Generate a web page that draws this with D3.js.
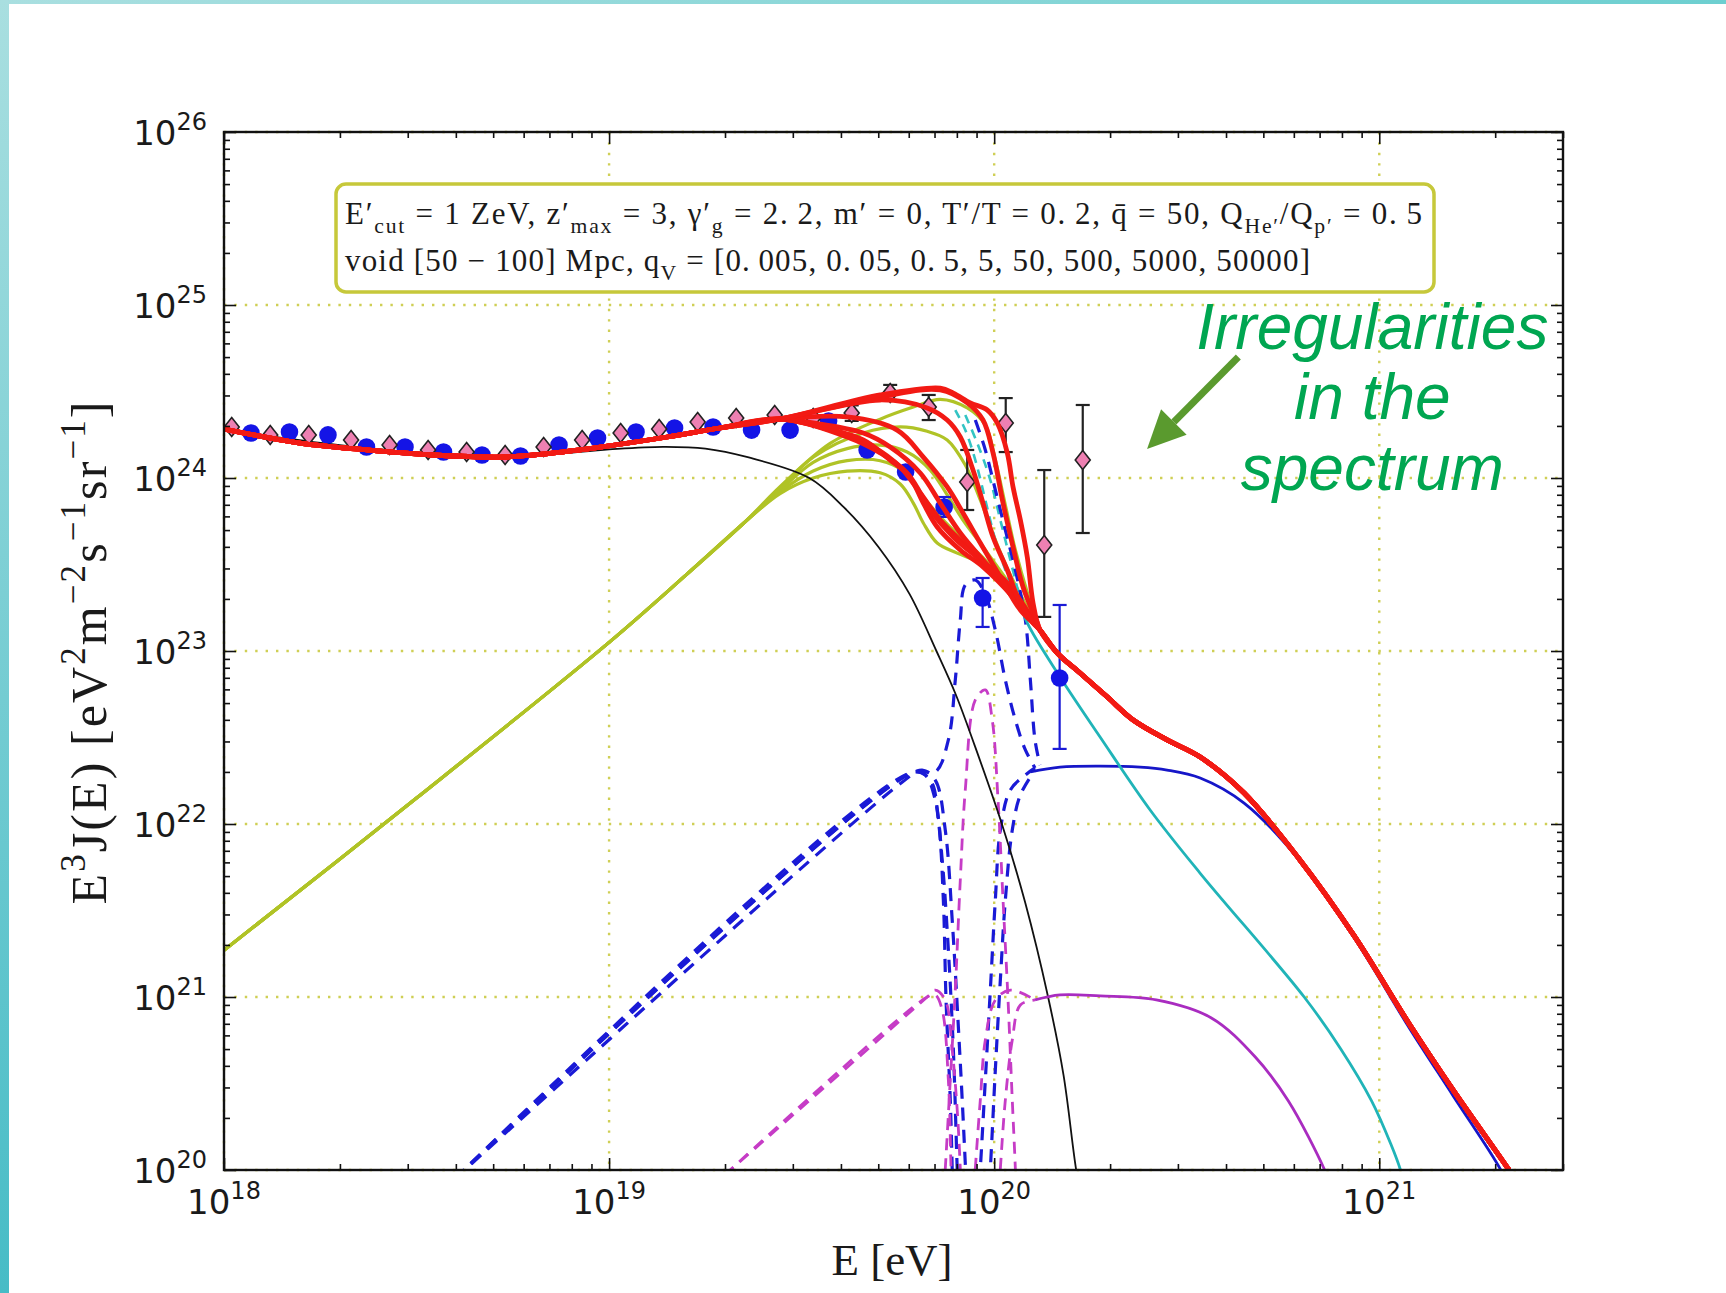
<!DOCTYPE html>
<html>
<head>
<meta charset="utf-8">
<script src="https://cdn.jsdelivr.net/npm/d3@7"></script>
<style>
  html, body { margin: 0; padding: 0; background: #fff; }
  svg { display: block; }
</style>
</head>
<body>
<svg id="chart" width="1726" height="1293"></svg>
<script>
// every value below is log10: [log10(E / eV), log10(E^3 J(E) / eV^2 m^-2 s^-1 sr^-1)]
const xTicks = [18, 19, 20, 21];
const yTicks = [20, 21, 22, 23, 24, 25, 26];

// pink diamonds (with black error bars)
const taE = [18.02, 18.12, 18.22, 18.33, 18.43, 18.53, 18.63, 18.73, 18.83, 18.93, 19.03, 19.13,
             19.23, 19.33, 19.43, 19.53, 19.63, 19.73, 19.83, 19.93, 20.03, 20.13, 20.23];
const taF = [24.295, 24.249, 24.249, 24.220, 24.191, 24.162, 24.150, 24.133, 24.179, 24.220, 24.260, 24.283,
             24.324, 24.347, 24.364, 24.347, 24.376, 24.491, 24.410, 23.977, 24.318, 23.613, 24.104];
const taErrE  = [19.63, 19.73, 19.83, 19.93, 20.03, 20.13, 20.23];
const taErrLo = [24.330, 24.451, 24.335, 23.815, 24.150, 23.197, 23.682];
const taErrHi = [24.420, 24.538, 24.480, 24.162, 24.462, 24.046, 24.422];

// blue circles (with blue error bars)
const augerE = [18.07, 18.17, 18.27, 18.37, 18.47, 18.57, 18.67, 18.77, 18.87, 18.97, 19.07,
                19.17, 19.27, 19.37, 19.47, 19.57, 19.67, 19.77, 19.87, 19.97, 20.17];
const augerF = [24.260, 24.266, 24.249, 24.179, 24.179, 24.150, 24.133, 24.127, 24.191, 24.231, 24.266,
                24.289, 24.295, 24.277, 24.277, 24.329, 24.162, 24.035, 23.832, 23.306, 22.844];
const augerErrE  = [19.87, 19.97, 20.17];
const augerErrLo = [23.775, 23.139, 22.434];
const augerErrHi = [23.890, 23.422, 23.266];

const blackCurve = [[18.00,24.28],[18.30,24.19],[18.56,24.14],[18.80,24.13],[19.00,24.165],[19.14,24.18],
  [19.25,24.17],[19.36,24.12],[19.52,24.00],[19.61,23.83],[19.70,23.60],[19.78,23.33],[19.85,23.00],
  [19.90,22.75],[19.95,22.45],[20.02,22.00],[20.08,21.55],[20.14,21.00],[20.18,20.55],[20.213,20.00],[20.23,19.8]];

// red totals: shared left part, one middle per qV, shared tail
const redLeft = [[18.000,24.283],[18.197,24.202],[18.371,24.162],[18.543,24.133],[18.717,24.121],
  [18.803,24.133],[18.977,24.179],[19.151,24.237],[19.288,24.289],[19.444,24.341]];
const redTail = [[20.119,23.121],[20.164,22.988],[20.223,22.873],[20.294,22.734],[20.361,22.601],
  [20.449,22.486],[20.535,22.387],[20.649,22.179],[20.792,21.798],[20.935,21.353],[21.078,20.844],
  [21.192,20.462],[21.335,20.006],[21.36,19.92]];
const redMid1 = [[19.618,24.237],[19.704,24.145],[19.774,24.029],[19.816,23.855],[19.852,23.717],[19.912,23.584],[19.971,23.486],[20.049,23.312]];
const redMid2 = [[19.574,24.277],[19.686,24.179],[19.756,24.064],[19.808,23.913],[19.860,23.757],[19.919,23.624],[19.982,23.486],[20.049,23.312]];
const redMid3 = [[19.530,24.306],[19.660,24.220],[19.730,24.104],[19.782,24.006],[19.834,23.815],[19.894,23.659],[19.964,23.526],[20.034,23.393]];
const redMid4 = [[19.530,24.318],[19.660,24.260],[19.730,24.179],[19.808,24.029],[19.860,23.855],[19.912,23.682],[19.971,23.526],[20.034,23.370],[20.101,23.162]];
const redMid5 = [[19.618,24.353],[19.748,24.277],[19.816,24.121],[19.878,23.948],[19.919,23.798],[19.964,23.624],[20.016,23.428],[20.068,23.237]];
const redMid6 = [[19.704,24.451],[19.826,24.405],[19.878,24.335],[19.912,24.237],[19.945,24.046],[19.971,23.855],[19.997,23.659],[20.034,23.468],[20.068,23.277]];
const redMid7 = [[19.704,24.468],[19.860,24.509],[19.930,24.434],[19.971,24.335],[19.997,24.145],[20.023,23.855],[20.049,23.601],[20.075,23.370],[20.112,23.162]];
const redMid8 = [[19.704,24.480],[19.860,24.520],[19.894,24.491],[19.938,24.434],[19.982,24.393],[20.008,24.318],[20.034,24.145],[20.049,23.948],[20.068,23.757],[20.086,23.543],[20.101,23.277]];

// yellow-green components: shared rise, one bend per qV
const ygLeft = [[18.0,21.27],[18.5,22.15],[19.0,23.05],[19.2,23.44],[19.35,23.74]];
const ygEnd = [[20.119,23.121]];
const ygMid1 = [[19.444,23.95],[19.574,24.20],[19.704,24.34],[19.790,24.41],[19.860,24.455],[19.930,24.405],[19.977,24.306],[20.003,24.104],[20.029,23.844],[20.055,23.584],[20.088,23.324]];
const ygMid2 = [[19.444,23.94],[19.530,24.12],[19.660,24.26],[19.756,24.295],[19.826,24.27],[19.878,24.220],[19.925,24.075],[19.964,23.873],[20.003,23.642],[20.042,23.439]];
const ygMid3 = [[19.444,23.93],[19.530,24.09],[19.618,24.17],[19.704,24.19],[19.774,24.15],[19.834,24.046],[19.878,23.902],[19.919,23.757],[19.977,23.584],[20.042,23.382]];
const ygMid4 = [[19.444,23.92],[19.530,24.04],[19.618,24.10],[19.704,24.10],[19.764,24.04],[19.808,23.913],[19.860,23.775],[19.912,23.659],[19.977,23.526],[20.042,23.353]];
const ygMid5 = [[19.444,23.91],[19.530,24.00],[19.618,24.04],[19.704,24.03],[19.756,23.965],[19.790,23.855],[19.816,23.740],[19.852,23.624],[19.904,23.566],[19.964,23.509],[20.034,23.393]];

const cyanCurve = [[20.055,23.353],[20.086,23.162],[20.171,22.850],[20.275,22.503],[20.405,22.081],
  [20.535,21.715],[20.805,21.000],[20.90,20.70],[20.98,20.40],[21.03,20.15],[21.055,20.0],[21.065,19.9]];
const blueCurve = [[20.094,22.301],[20.171,22.329],[20.275,22.335],[20.379,22.329],[20.449,22.312],
  [20.535,22.266],[20.649,22.121],[20.792,21.792],[20.935,21.341],[21.078,20.821],[21.192,20.428],[21.314,20.006],[21.33,19.92]];
const magentaCurve = [[20.106,20.983],[20.171,21.012],[20.275,21.006],[20.421,20.983],[20.564,20.879],
  [20.678,20.653],[20.764,20.399],[20.857,20.006],[20.87,19.93]];

const cyanDashed1 = [[19.899,24.393],[19.925,24.277],[19.951,24.104],[19.977,23.873],[20.003,23.642],[20.029,23.468],[20.055,23.295]];
const cyanDashed2 = [[19.925,24.364],[19.958,24.191],[19.990,23.988],[20.016,23.757],[20.042,23.526],[20.068,23.295]];

const blueDashed1 = [[18.60,19.95],[19.79,22.30],[19.821,22.283],[19.847,22.139],[19.865,21.792],[19.881,21.272],[19.894,20.694],[19.904,20.006],[19.912,19.538]];
const blueDashed2 = [[18.60,19.95],[19.76,22.24],[19.813,22.312],[19.847,22.254],[19.873,21.965],[19.891,21.445],[19.906,20.867],[19.917,20.405],[19.927,19.942]];
const blueDashed3 = [[19.951,19.538],[19.964,20.006],[19.977,20.520],[19.990,21.040],[20.003,21.561],[20.016,21.965],[20.042,22.197],[20.081,22.283],[20.106,22.324]];
const blueDashed4 = [[19.977,19.538],[19.990,20.006],[20.003,20.578],[20.016,21.098],[20.029,21.561],[20.047,21.965],[20.068,22.168],[20.106,22.312]];
const blueDashed5 = [[18.60,19.95],[19.79,22.30],[19.847,22.301],[19.881,22.486],[19.899,22.832],[19.912,23.179],[19.925,23.382],[19.951,23.410],[19.977,23.324],[20.003,23.121],[20.029,22.832],[20.055,22.601],[20.081,22.428],[20.106,22.324]];
const blueDashed6 = [[19.951,24.335],[19.977,24.162],[20.003,23.931],[20.029,23.699],[20.055,23.468],[20.081,23.179],[20.094,22.832],[20.106,22.486],[20.119,22.341]];
const blueDashed7 = [[18.60,19.95],[19.79,22.30],[19.834,22.254],[19.855,22.023],[19.868,21.561],[19.875,20.983],[19.886,20.405],[19.891,20.006],[19.896,19.538]];

const magentaDashed1 = [[19.30,19.97],[19.826,21.0],[19.847,21.040],[19.873,20.983],[19.891,20.694],[19.904,20.347],[19.912,20.006],[19.919,19.538]];
const magentaDashed2 = [[19.860,19.538],[19.873,20.006],[19.886,20.520],[19.899,21.040],[19.912,21.676],[19.925,22.197],[19.951,22.717],[19.977,22.775],[19.995,22.601],[20.010,22.139],[20.023,21.561],[20.036,20.983],[20.047,20.405],[20.055,20.006],[20.062,19.538]];
const magentaDashed3 = [[20.003,19.538],[20.016,20.006],[20.029,20.405],[20.047,20.751],[20.068,20.954],[20.106,20.983]];
const magentaDashed4 = [[19.30,19.97],[19.826,21.0],[19.847,21.012],[19.865,20.925],[19.881,20.520],[19.888,20.006],[19.894,19.538]];
const magentaDashed5 = [[19.938,19.538],[19.951,20.006],[19.964,20.405],[19.977,20.751],[20.003,20.983],[20.042,21.040],[20.106,20.983]];

// annotation arrow (tail, tip) and label lines, in data units
const arrowPts = [[20.634,24.699],[20.397,24.168]];
const noteLines = ["Irregularities", "in the", "spectrum"];
const noteY = [24.746, 24.341, 23.931];
const noteX = 20.982;

// ---------------------------------------------------------------
const svg = d3.select("#chart");
const M = { left: 224, top: 132, right: 1563, bottom: 1170 };

const x = d3.scaleLog().domain([1e18, 3e21]).range([M.left, M.right]);
const y = d3.scaleLog().domain([1e20, 1e26]).range([M.bottom, M.top]);
const px = d => x(Math.pow(10, d[0]));
const py = d => y(Math.pow(10, d[1]));
const line = d3.line().x(px).y(py).curve(d3.curveCatmullRom.alpha(0.5));

// page background with the teal edges
const defs = svg.append("defs");
const gv = defs.append("linearGradient").attr("id", "tealV").attr("x1", 0).attr("y1", 0).attr("x2", 0).attr("y2", 1);
gv.append("stop").attr("offset", "0%").attr("stop-color", "#a9dfe0");
gv.append("stop").attr("offset", "100%").attr("stop-color", "#47bcc6");
const gh = defs.append("linearGradient").attr("id", "tealH");
gh.append("stop").attr("offset", "0%").attr("stop-color", "#a9dfe0");
gh.append("stop").attr("offset", "100%").attr("stop-color", "#6dcfd0");
defs.append("clipPath").attr("id", "plotClip").append("rect")
  .attr("x", M.left).attr("y", M.top).attr("width", M.right - M.left).attr("height", M.bottom - M.top);

svg.append("rect").attr("width", 1726).attr("height", 1293).attr("fill", "#fff");
svg.append("rect").attr("width", 1726).attr("height", 4).attr("fill", "url(#tealH)");
svg.append("rect").attr("width", 9).attr("height", 1293).attr("fill", "url(#tealV)");

// dotted grid
const grid = svg.append("g").attr("stroke", "#cfcf55").attr("stroke-width", 2.4).attr("stroke-dasharray", "2.4,8");
grid.selectAll("line.gx").data(xTicks).enter().append("line")
  .attr("x1", d => x(Math.pow(10, d))).attr("x2", d => x(Math.pow(10, d)))
  .attr("y1", M.top).attr("y2", M.bottom);
grid.selectAll("line.gy").data(yTicks).enter().append("line")
  .attr("y1", d => y(Math.pow(10, d))).attr("y2", d => y(Math.pow(10, d)))
  .attr("x1", M.left).attr("x2", M.right);

const plot = svg.append("g").attr("clip-path", "url(#plotClip)");

function drawCurves(list, color, width, dash) {
  plot.append("g").selectAll("path").data(list).enter().append("path")
    .attr("d", line)
    .attr("fill", "none")
    .attr("stroke", color)
    .attr("stroke-width", width)
    .attr("stroke-linejoin", "round")
    .attr("stroke-dasharray", dash || null);
}

const ygCurves = [ygMid1, ygMid2, ygMid3, ygMid4, ygMid5].map(m => ygLeft.concat(m, ygEnd));
drawCurves(ygCurves, "#b0c326", 3.2);
drawCurves([cyanDashed1, cyanDashed2], "#33c4c4", 2.6, "9,7");
drawCurves([blueDashed1, blueDashed2, blueDashed3, blueDashed4, blueDashed5, blueDashed6, blueDashed7], "#1a1ad6", 3.2, "13,9");
drawCurves([magentaDashed1, magentaDashed2, magentaDashed3, magentaDashed4, magentaDashed5], "#c63cc6", 2.8, "12,8");
drawCurves([blackCurve], "#111", 1.8);
drawCurves([magentaCurve], "#a92cc0", 2.8);
drawCurves([blueCurve], "#1616c8", 2.8);
drawCurves([cyanCurve], "#20b4b8", 2.8);

// data points
const ta = taE.map((e, i) => [e, taF[i]]);
const auger = augerE.map((e, i) => [e, augerF[i]]);

function errorBars(es, lo, hi, color) {
  const g = plot.append("g").attr("stroke", color).attr("stroke-width", 2.2);
  es.forEach((e, i) => {
    const xx = px([e, 0]);
    g.append("line").attr("x1", xx).attr("x2", xx).attr("y1", py([0, lo[i]])).attr("y2", py([0, hi[i]]));
    [lo[i], hi[i]].forEach(v => g.append("line")
      .attr("x1", xx - 7).attr("x2", xx + 7).attr("y1", py([0, v])).attr("y2", py([0, v])));
  });
}
errorBars(taErrE, taErrLo, taErrHi, "#222");
errorBars(augerErrE, augerErrLo, augerErrHi, "#1a1ad6");

plot.append("g").selectAll("circle").data(auger).enter().append("circle")
  .attr("cx", px).attr("cy", py).attr("r", 8.8).attr("fill", "#1414e6");
plot.append("g").selectAll("path").data(ta).enter().append("path")
  .attr("transform", d => `translate(${px(d)},${py(d)})`)
  .attr("d", "M0,-9.5L7.5,0L0,9.5L-7.5,0Z")
  .attr("fill", "#ee80b2").attr("stroke", "#222").attr("stroke-width", 1.6);

// red totals on top
const redCurves = [redMid1, redMid2, redMid3, redMid4, redMid5, redMid6, redMid7, redMid8]
  .map(m => redLeft.concat(m, redTail));
drawCurves(redCurves, "#f21a14", 4.8);

// frame and ticks
const axes = svg.append("g");
const xAll = x.ticks(), yAll = y.ticks();
const isMajor = t => Math.abs(Math.log10(t) - Math.round(Math.log10(t))) < 1e-9;
function tickAxis(axisFn, scale, tr, values, len) {
  axes.append("g").attr("transform", tr)
    .call(axisFn(scale).tickValues(values).tickSize(-len).tickFormat(""))
    .call(g => g.select(".domain").remove())
    .call(g => g.selectAll("line").attr("stroke", "#111").attr("stroke-width", 1.6));
}
const xMaj = xAll.filter(isMajor), xMin = xAll.filter(t => !isMajor(t));
const yMaj = yAll.filter(isMajor), yMin = yAll.filter(t => !isMajor(t));
tickAxis(d3.axisBottom, x, `translate(0,${M.bottom})`, xMaj, 12);
tickAxis(d3.axisBottom, x, `translate(0,${M.bottom})`, xMin, 6);
tickAxis(d3.axisTop, x, `translate(0,${M.top})`, xMaj, 12);
tickAxis(d3.axisTop, x, `translate(0,${M.top})`, xMin, 6);
tickAxis(d3.axisLeft, y, `translate(${M.left},0)`, yMaj, 12);
tickAxis(d3.axisLeft, y, `translate(${M.left},0)`, yMin, 6);
tickAxis(d3.axisRight, y, `translate(${M.right},0)`, yMaj, 12);
tickAxis(d3.axisRight, y, `translate(${M.right},0)`, yMin, 6);

axes.append("rect").attr("x", M.left).attr("y", M.top)
  .attr("width", M.right - M.left).attr("height", M.bottom - M.top)
  .attr("fill", "none").attr("stroke", "#111").attr("stroke-width", 2.4);

// tick labels 10^n
function powLabel(xx, yy, n, anchor) {
  const t = axes.append("text").attr("x", xx).attr("y", yy)
    .attr("text-anchor", anchor)
    .attr("font-family", "'DejaVu Sans', sans-serif").attr("fill", "#1a1a1a");
  t.append("tspan").attr("font-size", 34).text("10");
  t.append("tspan").attr("font-size", 24).attr("dy", -15).text(n);
}
yTicks.forEach(n => powLabel(207, y(Math.pow(10, n)) + 13, n, "end"));
xTicks.forEach(n => powLabel(x(Math.pow(10, n)), 1214, n, "middle"));

// math-like text with sub/superscripts
function mathText(parent, parts, size, attrs) {
  const t = parent.append("text")
    .attr("font-family", "'Liberation Serif', 'DejaVu Serif', serif")
    .attr("font-size", size).attr("fill", "#1a1a1a");
  Object.entries(attrs).forEach(([k, v]) => t.attr(k, v));
  let cur = 0;
  parts.forEach(([s, kind]) => {
    const shift = kind === "sub" ? size * 0.28 : kind === "sup" ? -size * 0.42 : 0;
    t.append("tspan").attr("dy", shift - cur).attr("font-size", kind ? size * 0.7 : size).text(s);
    cur = shift;
  });
  return t;
}

mathText(svg, [["E"], ["3", "sup"], ["J(E) [eV"], ["2", "sup"], ["m"], ["\u22122", "sup"], ["s"],
  ["\u22121", "sup"], ["sr"], ["\u22121", "sup"], ["]"]], 50,
  { transform: "translate(106,653) rotate(-90)", "text-anchor": "middle", textLength: 503, lengthAdjust: "spacing" });
mathText(svg, [["E [eV]"]], 45, { x: 892, y: 1275, "text-anchor": "middle" });

// legend box
const leg = svg.append("g");
leg.append("rect").attr("x", 336).attr("y", 184).attr("width", 1098).attr("height", 108).attr("rx", 10)
  .attr("fill", "#fff").attr("stroke", "#c6c83a").attr("stroke-width", 3.5);
mathText(leg, [["E\u2032"], ["cut", "sub"], [" = 1 ZeV,  z\u2032"], ["max", "sub"], [" = 3,  \u03b3\u2032"], ["g", "sub"],
  [" = 2.\u20092,  m\u2032 = 0,  T\u2032/T = 0.\u20092,  q\u0304 = 50,  Q"], ["He\u2032", "sub"], ["/Q"], ["p\u2032", "sub"],
  [" = 0.\u20095"]], 31, { x: 345, y: 224, textLength: 1077, lengthAdjust: "spacing" });
mathText(leg, [["void [50 \u2212 100] Mpc,  q"], ["V", "sub"],
  [" = [0.\u2009005, 0.\u200905, 0.\u20095, 5, 50, 500, 5000, 50000]"]], 31,
  { x: 345, y: 271, textLength: 965, lengthAdjust: "spacing" });

// annotation
const note = svg.append("g");
noteLines.forEach((s, i) => note.append("text")
  .attr("x", x(Math.pow(10, noteX))).attr("y", y(Math.pow(10, noteY[i])))
  .attr("text-anchor", "middle")
  .attr("font-family", "'Liberation Sans', Arial, sans-serif").attr("font-style", "italic")
  .attr("font-size", 64).attr("fill", "#00a651").text(s));

const a0 = [px(arrowPts[0]), py(arrowPts[0])], a1 = [px(arrowPts[1]), py(arrowPts[1])];
const ang = Math.atan2(a1[1] - a0[1], a1[0] - a0[0]);
const headL = 38, headW = 18;
const base = [a1[0] - headL * Math.cos(ang), a1[1] - headL * Math.sin(ang)];
note.append("line").attr("x1", a0[0]).attr("y1", a0[1]).attr("x2", base[0]).attr("y2", base[1])
  .attr("stroke", "#5a9a2e").attr("stroke-width", 7);
note.append("polygon").attr("fill", "#5a9a2e").attr("points", [
  a1,
  [base[0] + headW * Math.sin(ang), base[1] - headW * Math.cos(ang)],
  [base[0] - headW * Math.sin(ang), base[1] + headW * Math.cos(ang)]
].map(p => p.join(",")).join(" "));
</script>
</body>
</html>
